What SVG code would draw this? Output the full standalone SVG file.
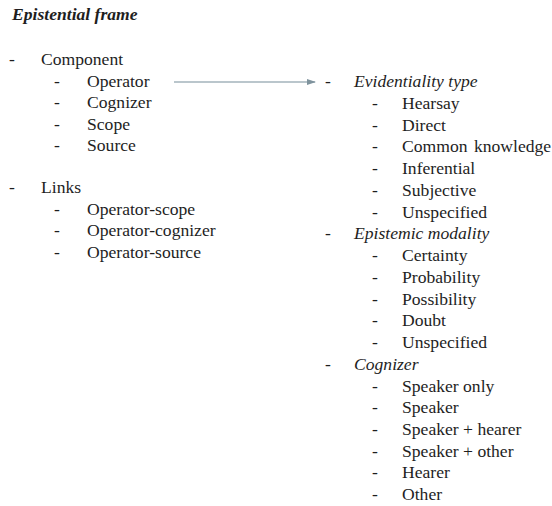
<svg xmlns="http://www.w3.org/2000/svg" width="552" height="506" viewBox="0 0 552 506">
<defs>
<style>
text{font-family:'Liberation Serif','Times New Roman',serif;font-size:17.6px;fill:#1e1e1e}
.t{font-weight:bold;font-style:italic}
.i{font-style:italic}
.c{stroke:#a3b3bb;stroke-width:1.4;fill:none}
</style>
<marker id="ah" markerWidth="9" markerHeight="6" refX="8" refY="3" orient="auto" markerUnits="userSpaceOnUse">
<path d="M0,0 L9,3 L0,6 Z" fill="#7f939d"/>
</marker>
</defs>
<rect width="552" height="506" fill="#ffffff"/>
<g id="title"><text class="t" x="12" y="20">Epistential frame</text></g>
<g id="component">
<text x="9" y="65">-</text><text x="41" y="65">Component</text>
<text x="54" y="87">-</text><text x="87" y="87">Operator</text>
<text x="54" y="108">-</text><text x="87" y="108">Cognizer</text>
<text x="54" y="130">-</text><text x="87" y="130">Scope</text>
<text x="54" y="151">-</text><text x="87" y="151">Source</text>
</g>
<g id="links">
<text x="9" y="193">-</text><text x="41" y="193">Links</text>
<text x="54" y="215">-</text><text x="87" y="215">Operator-scope</text>
<text x="54" y="236">-</text><text x="87" y="236">Operator-cognizer</text>
<text x="54" y="258">-</text><text x="87" y="258">Operator-source</text>
</g>
<g id="evidentiality">
<text x="325" y="87">-</text><text class="i" x="354" y="87">Evidentiality type</text>
<text x="372" y="109">-</text><text x="402" y="109">Hearsay</text>
<text x="372" y="131">-</text><text x="402" y="131">Direct</text>
<text x="372" y="152">-</text><text x="402" y="152" word-spacing="2">Common knowledge</text>
<text x="372" y="174">-</text><text x="402" y="174">Inferential</text>
<text x="372" y="196">-</text><text x="402" y="196">Subjective</text>
<text x="372" y="218">-</text><text x="402" y="218">Unspecified</text>
</g>
<g id="epistemic">
<text x="325" y="239">-</text><text class="i" x="354" y="239">Epistemic modality</text>
<text x="372" y="261">-</text><text x="402" y="261">Certainty</text>
<text x="372" y="283">-</text><text x="402" y="283">Probability</text>
<text x="372" y="305">-</text><text x="402" y="305">Possibility</text>
<text x="372" y="326">-</text><text x="402" y="326">Doubt</text>
<text x="372" y="348">-</text><text x="402" y="348">Unspecified</text>
</g>
<g id="cognizer">
<text x="325" y="370">-</text><text class="i" x="354" y="370">Cognizer</text>
<text x="372" y="392">-</text><text x="402" y="392">Speaker only</text>
<text x="372" y="413">-</text><text x="402" y="413">Speaker</text>
<text x="372" y="435">-</text><text x="402" y="435">Speaker + hearer</text>
<text x="372" y="457">-</text><text x="402" y="457">Speaker + other</text>
<text x="372" y="478">-</text><text x="402" y="478">Hearer</text>
<text x="372" y="500">-</text><text x="402" y="500">Other</text>
</g>
<g id="connectors">
<line class="c" x1="174" y1="82" x2="315" y2="82" marker-end="url(#ah)"/>
</g>
</svg>
